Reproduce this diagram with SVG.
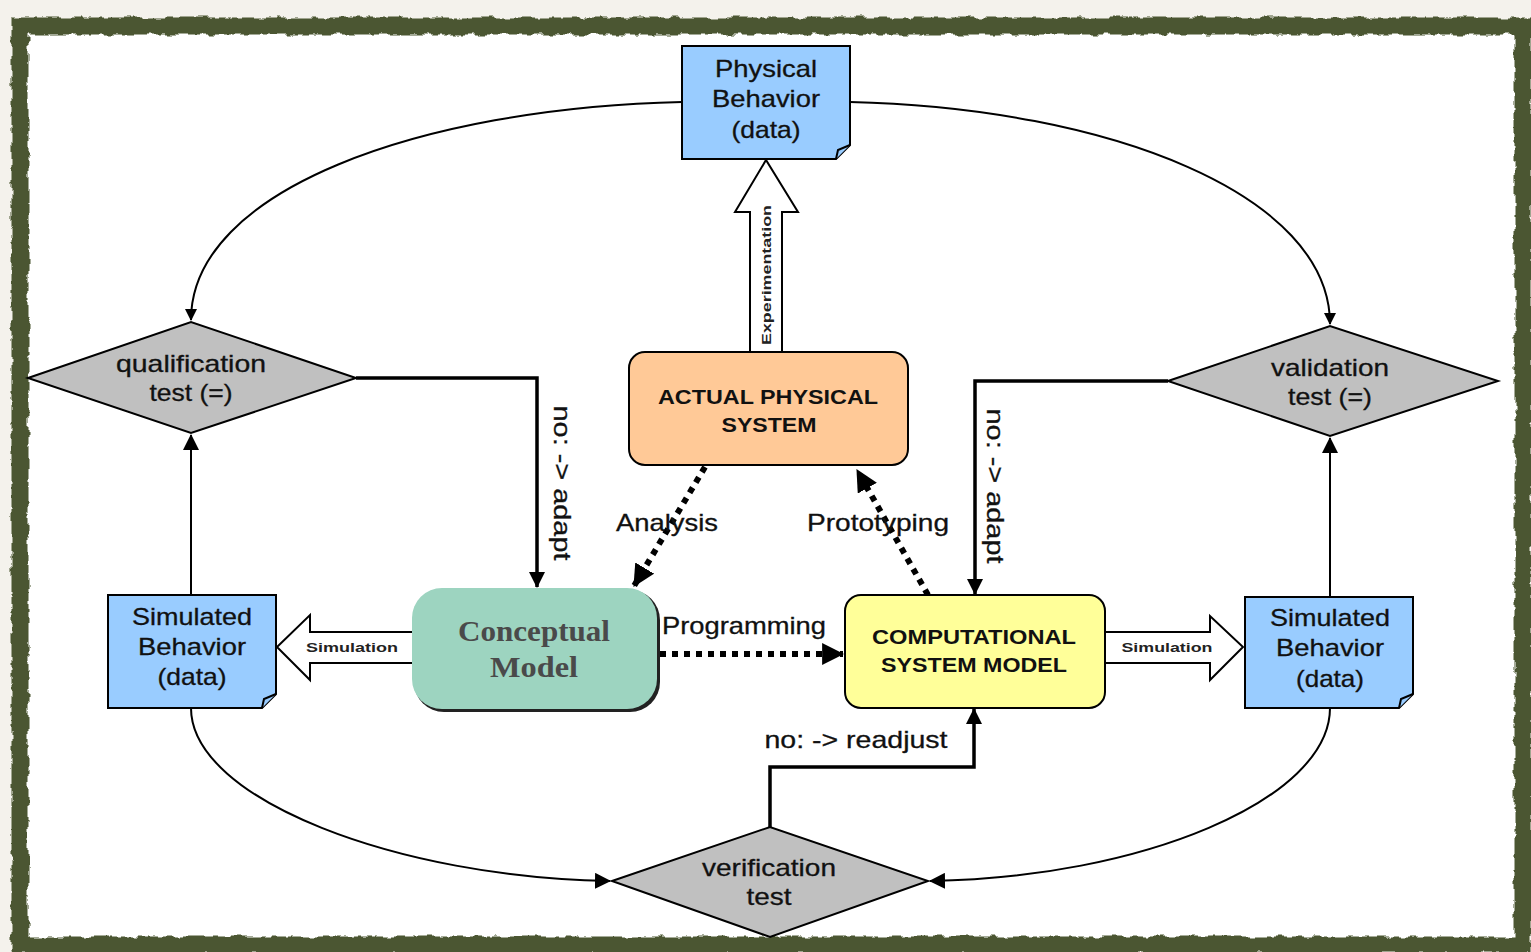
<svg xmlns="http://www.w3.org/2000/svg" width="1531" height="952" viewBox="0 0 1531 952">
<defs>
<filter id="rough" x="-5%" y="-5%" width="110%" height="110%">
<feTurbulence type="fractalNoise" baseFrequency="0.09" numOctaves="3" seed="4" result="n"/>
<feDisplacementMap in="SourceGraphic" in2="n" scale="7" xChannelSelector="R" yChannelSelector="G"/>
</filter>
<marker id="ah" viewBox="0 0 12 12" refX="11" refY="6" markerWidth="12" markerHeight="12" markerUnits="userSpaceOnUse" orient="auto">
<path d="M0,0 L12,6 L0,12 z" fill="#000"/>
</marker>
<marker id="ahb" viewBox="0 0 20 20" refX="19" refY="10" markerWidth="22" markerHeight="22" markerUnits="userSpaceOnUse" orient="auto">
<path d="M0,0 L20,10 L0,20 z" fill="#000"/>
</marker>
<marker id="ahm" viewBox="0 0 16 16" refX="15" refY="8" markerWidth="16" markerHeight="16" markerUnits="userSpaceOnUse" orient="auto">
<path d="M0,0 L16,8 L0,16 z" fill="#000"/>
</marker>
</defs>
<style>
.t{font-family:"Liberation Sans",Arial,sans-serif;fill:#111;text-anchor:middle}
.big{font-size:24px;stroke:#111;stroke-width:0.3}
.caps{font-size:20px;font-weight:bold}
.small{font-size:13px;font-weight:bold;fill:#222}
.lbl{font-size:24px;stroke:#111;stroke-width:0.3}
.note{fill:#99ccff;stroke:#000;stroke-width:2}
.dia{fill:#c0c0c0;stroke:#000;stroke-width:2}
.thin{fill:none;stroke:#000;stroke-width:2}
.thick{fill:none;stroke:#000;stroke-width:3.5}
.dot{fill:none;stroke:#000;stroke-width:6;stroke-dasharray:6 6}
.fat{fill:#fff;stroke:#000;stroke-width:2}
</style>
<rect x="0" y="0" width="1531" height="952" fill="#f4f2ec"/>
<rect x="20" y="26" width="1503" height="919" fill="#ffffff" stroke="#4b5630" stroke-width="17" filter="url(#rough)"/>

<g id="connectors">
<path class="thin" d="M682,102 C420,108 191,190 191,320" marker-end="url(#ah)"/>
<path class="thin" d="M850,102 C1110,108 1330,195 1330,324" marker-end="url(#ah)"/>
<path class="thin" d="M191,708 C191,800 400,878 610,881" marker-end="url(#ahm)"/>
<path class="thin" d="M1330,708 C1330,800 1140,878 930,881" marker-end="url(#ahm)"/>
<path class="thin" d="M191,595 L191,435" marker-end="url(#ahm)"/>
<path class="thin" d="M1330,597 L1330,438" marker-end="url(#ahm)"/>
<path class="thick" d="M356,378 L537,378 L537,587" marker-end="url(#ahm)"/>
<path class="thick" d="M1168,381 L975,381 L975,594" marker-end="url(#ahm)"/>
<path class="thick" d="M770,827 L770,767 L974,767 L974,709" marker-end="url(#ahm)"/>
<path class="dot" d="M705,467 L634,586" marker-end="url(#ahb)"/>
<path class="dot" d="M928,595 L857,470" marker-end="url(#ahb)"/>
<path class="dot" d="M660,654 L843,654" marker-end="url(#ahb)"/>
<path class="fat" d="M750,352 L750,212 L735,212 L766,160 L798,212 L782,212 L782,352"/>
<path class="fat" d="M412,632 L310,632 L310,615 L277,647 L310,680 L310,663 L412,663"/>
<path class="fat" d="M1105,632 L1210,632 L1210,616 L1243,647 L1210,680 L1210,663 L1105,663"/>
<text class="t small" transform="translate(771,275) rotate(-90)" textLength="140" lengthAdjust="spacingAndGlyphs">Experimentation</text>
<text class="t small" x="352" y="652" textLength="92" lengthAdjust="spacingAndGlyphs">Simulation</text>
<text class="t small" x="1167" y="652" textLength="91" lengthAdjust="spacingAndGlyphs">Simulation</text>
<text class="t lbl" x="667" y="531" textLength="102" lengthAdjust="spacingAndGlyphs">Analysis</text>
<text class="t lbl" x="878" y="531" textLength="142" lengthAdjust="spacingAndGlyphs">Prototyping</text>
<text class="t lbl" x="744" y="634" textLength="164" lengthAdjust="spacingAndGlyphs">Programming</text>
<text class="t lbl" x="856" y="748" textLength="183" lengthAdjust="spacingAndGlyphs">no: -&gt; readjust</text>
<text class="t lbl" transform="translate(554,483) rotate(90)" textLength="155" lengthAdjust="spacingAndGlyphs">no: -&gt; adapt</text>
<text class="t lbl" transform="translate(987,486) rotate(90)" textLength="155" lengthAdjust="spacingAndGlyphs">no: -&gt; adapt</text>
</g>

<g id="physical-behavior">
<path class="note" d="M682,46 L850,46 L850,145 L836,159 L682,159 z"/>
<path class="note" d="M836,159 L838,150 L850,145"/>
<text class="t big" x="766" y="77" textLength="102" lengthAdjust="spacingAndGlyphs">Physical</text>
<text class="t big" x="766" y="107" textLength="108" lengthAdjust="spacingAndGlyphs">Behavior</text>
<text class="t big" x="766" y="138" textLength="69" lengthAdjust="spacingAndGlyphs">(data)</text>
</g>

<g id="actual-physical-system">
<rect x="629" y="352" width="279" height="113" rx="16" fill="#ffc997" stroke="#000" stroke-width="2"/>
<text class="t caps" x="768" y="404" textLength="220" lengthAdjust="spacingAndGlyphs">ACTUAL PHYSICAL</text>
<text class="t caps" x="769" y="432" textLength="95" lengthAdjust="spacingAndGlyphs">SYSTEM</text>
</g>

<g id="qualification-test">
<path class="dia" d="M28,378 L191,322 L356,378 L191,433 z"/>
<text class="t big" x="191" y="372" textLength="150" lengthAdjust="spacingAndGlyphs">qualification</text>
<text class="t big" x="191" y="401" textLength="83" lengthAdjust="spacingAndGlyphs">test (=)</text>
</g>

<g id="validation-test">
<path class="dia" d="M1168,381 L1330,326 L1498,381 L1330,436 z"/>
<text class="t big" x="1330" y="376" textLength="118" lengthAdjust="spacingAndGlyphs">validation</text>
<text class="t big" x="1330" y="405" textLength="84" lengthAdjust="spacingAndGlyphs">test (=)</text>
</g>

<g id="verification-test">
<path class="dia" d="M612,881 L770,827 L928,881 L770,937 z"/>
<text class="t big" x="769" y="876" textLength="134" lengthAdjust="spacingAndGlyphs">verification</text>
<text class="t big" x="769" y="905" textLength="45" lengthAdjust="spacingAndGlyphs">test</text>
</g>

<g id="simulated-behavior-left">
<path class="note" d="M108,595 L276,595 L276,694 L262,708 L108,708 z"/>
<path class="note" d="M262,708 L264,699 L276,694"/>
<text class="t big" x="192" y="625" textLength="120" lengthAdjust="spacingAndGlyphs">Simulated</text>
<text class="t big" x="192" y="655" textLength="108" lengthAdjust="spacingAndGlyphs">Behavior</text>
<text class="t big" x="192" y="685" textLength="69" lengthAdjust="spacingAndGlyphs">(data)</text>
</g>

<g id="simulated-behavior-right">
<path class="note" d="M1245,597 L1413,597 L1413,694 L1399,708 L1245,708 z"/>
<path class="note" d="M1399,708 L1401,699 L1413,694"/>
<text class="t big" x="1330" y="626" textLength="120" lengthAdjust="spacingAndGlyphs">Simulated</text>
<text class="t big" x="1330" y="656" textLength="108" lengthAdjust="spacingAndGlyphs">Behavior</text>
<text class="t big" x="1330" y="687" textLength="68" lengthAdjust="spacingAndGlyphs">(data)</text>
</g>

<g id="conceptual-model">
<rect x="414" y="590" width="246" height="122" rx="30" fill="#222"/>
<rect x="412" y="588" width="245" height="121" rx="30" fill="#9dd4c0"/>
<text x="534" y="641" font-family="'Liberation Serif','DejaVu Serif',serif" font-size="30" font-weight="bold" fill="#4a4a4a" text-anchor="middle" textLength="152" lengthAdjust="spacingAndGlyphs">Conceptual</text>
<text x="534" y="677" font-family="'Liberation Serif','DejaVu Serif',serif" font-size="30" font-weight="bold" fill="#4a4a4a" text-anchor="middle" textLength="88" lengthAdjust="spacingAndGlyphs">Model</text>
</g>

<g id="computational-system-model">
<rect x="845" y="595" width="260" height="113" rx="16" fill="#ffff99" stroke="#000" stroke-width="2"/>
<text class="t caps" x="974" y="644" textLength="204" lengthAdjust="spacingAndGlyphs">COMPUTATIONAL</text>
<text class="t caps" x="974" y="672" textLength="186" lengthAdjust="spacingAndGlyphs">SYSTEM MODEL</text>
</g>
</svg>
